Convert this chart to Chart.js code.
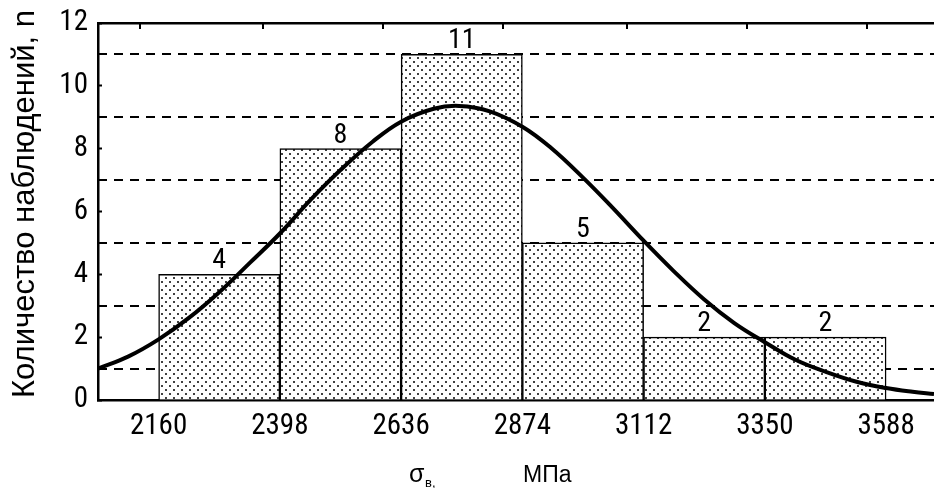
<!DOCTYPE html>
<html>
<head>
<meta charset="utf-8">
<script src="https://cdn.jsdelivr.net/npm/chart.js@4.4.1/dist/chart.umd.min.js"></script>
<style>
  html, body { margin: 0; padding: 0; background: #fff; overflow: hidden; }
  canvas { display: block; }
</style>
</head>
<body>
<canvas id="hist" width="934" height="488"></canvas>
<script>
// interval boundaries, MPa
const binEdges = [2160, 2398, 2636, 2874, 3112, 3350, 3588]
// observations per interval
const counts = [4, 8, 11, 5, 2, 2]

// normal curve over the histogram
const curveX = [2041, 2100, 2160, 2220, 2279, 2340, 2398, 2460, 2517, 2580, 2636, 2700, 2750, 2810,
  2874, 2930, 2993, 3050, 3112, 3170, 3231, 3290, 3350, 3410, 3469, 3530, 3588, 3640, 3682]
const curveY = [1.0, 1.38, 1.93, 2.62, 3.43, 4.38, 5.3, 6.4, 7.32, 8.22, 8.86, 9.27, 9.36, 9.19,
  8.7, 8.03, 7.08, 6.14, 5.07, 4.12, 3.2, 2.45, 1.84, 1.28, 0.9, 0.58, 0.38, 0.26, 0.19]

// tick labels and reference levels
const yLabels = [0, 2, 4, 6, 8, 10, 12]
const dashedLevels = [1, 3, 5, 7, 9, 11]
const topTicks = [2123, 2365, 2600, 2836, 3079, 3315, 3551]

const X_MIN = 2041
const X_MAX = 3682

const NARROW = '"Liberation Sans Narrow", "Noto Sans Condensed", "Roboto Condensed", "Open Sans Condensed", "DejaVu Sans Condensed", "Liberation Sans", sans-serif'
const SANS = '"Liberation Sans", Arial, sans-serif'

// white tile with staggered black dots
function dotPattern() {
  const c = document.createElement("canvas")
  c.width = 8
  c.height = 8
  const g = c.getContext("2d")
  g.fillStyle = "#fff"
  g.fillRect(0, 0, 8, 8)
  g.fillStyle = "rgba(0,0,0,0.75)"
  g.fillRect(1, 1, 2, 2)
  g.fillRect(5, 5, 2, 2)
  return g.createPattern(c, "repeat")
}

// numbers above the bars
const valueLabels = {
  id: "valueLabels",
  afterDatasetsDraw(chart) {
    const meta = chart.getDatasetMeta(1)
    const g = chart.ctx
    g.save()
    g.font = "28px " + NARROW
    g.fillStyle = "#000"
    g.textAlign = "center"
    g.textBaseline = "alphabetic"
    meta.data.forEach((bar, i) => {
      g.fillText(String(counts[i]), bar.x, bar.y - 6)
    })
    g.restore()
  },
}

// axis captions
const captions = {
  id: "captions",
  afterDraw(chart) {
    const g = chart.ctx
    g.save()
    g.fillStyle = "#000"

    // y caption, rotated
    g.save()
    g.translate(25, 204)
    g.rotate(-Math.PI / 2)
    g.textAlign = "center"
    g.textBaseline = "middle"
    g.font = "31px " + SANS
    g.fillText("Количество наблюдений, n", 0, 0)
    g.restore()

    // x caption: sigma with subscript, then units
    g.textBaseline = "alphabetic"
    g.textAlign = "left"
    g.font = "25px " + SANS
    g.fillText("σ", 409, 482)
    g.font = "13px " + SANS
    g.fillText("в,", 425, 487)
    g.font = "23px " + SANS
    g.fillText("МПа", 523, 482)
    g.restore()
  },
}

const ctx = document.getElementById("hist").getContext("2d")

new Chart(ctx, {
  type: "bar",
  data: {
    datasets: [
      {
        type: "line",
        data: curveX.map((x, i) => ({ x, y: curveY[i] })),
        borderColor: "#000",
        borderWidth: 4,
        pointRadius: 0,
        tension: 0.4,
        order: 0,
      },
      {
        type: "bar",
        data: counts.map((n, i) => ({ x: (binEdges[i] + binEdges[i + 1]) / 2, y: n })),
        backgroundColor: dotPattern(),
        borderColor: "#000",
        borderWidth: 1.5,
        barPercentage: 1,
        categoryPercentage: 1,
        order: 1,
      },
    ],
  },
  options: {
    responsive: false,
    animation: false,
    devicePixelRatio: 1,
    layout: { padding: 0 },
    plugins: {
      legend: { display: false },
      tooltip: { enabled: false },
    },
    scales: {
      x: {
        type: "linear",
        position: "bottom",
        min: X_MIN,
        max: X_MAX,
        offset: false,
        z: 1,
        afterBuildTicks: (s) => {
          s.ticks = binEdges.map((v) => ({ value: v }))
        },
        grid: { display: false, drawTicks: false, offset: false },
        border: { display: true, color: "#000", width: 2.5 },
        ticks: {
          autoSkip: false,
          maxRotation: 0,
          padding: 9,
          color: "#000",
          font: { family: NARROW, size: 29 },
          callback: (v) => String(v),
        },
        afterFit: (s) => {
          s.height = 88
        },
      },
      xTop: {
        type: "linear",
        position: "top",
        min: X_MIN,
        max: X_MAX,
        offset: false,
        afterBuildTicks: (s) => {
          s.ticks = topTicks.map((v) => ({ value: v }))
        },
        ticks: { display: false },
        grid: {
          drawOnChartArea: false,
          drawTicks: true,
          tickLength: -6,
          color: "#000",
          lineWidth: 2,
          offset: false,
        },
        border: { display: true, color: "#000", width: 2.5 },
        afterFit: (s) => {
          s.height = 23
        },
      },
      y: {
        min: 0,
        max: 12,
        afterBuildTicks: (s) => {
          s.ticks = yLabels.map((v) => ({ value: v }))
        },
        grid: {
          drawOnChartArea: false,
          drawTicks: true,
          tickLength: -4,
          tickWidth: 2,
          tickColor: "#000",
        },
        border: { display: true, color: "#000", width: 2.5 },
        ticks: {
          padding: 14,
          color: "#000",
          font: { family: NARROW, size: 29, lineHeight: 0.5 },
          callback: (v) => String(v),
        },
        afterFit: (s) => {
          s.width = 98
        },
      },
      // dashed reference lines at odd counts
      yGrid: {
        position: "left",
        min: 0,
        max: 12,
        afterBuildTicks: (s) => {
          s.ticks = dashedLevels.map((v) => ({ value: v }))
        },
        ticks: { display: false },
        grid: { color: "#000", lineWidth: 2, drawTicks: false },
        border: { display: false, dash: [9, 7] },
        afterFit: (s) => {
          s.width = 0
        },
      },
    },
  },
  plugins: [valueLabels, captions],
})
</script>
</body>
</html>
